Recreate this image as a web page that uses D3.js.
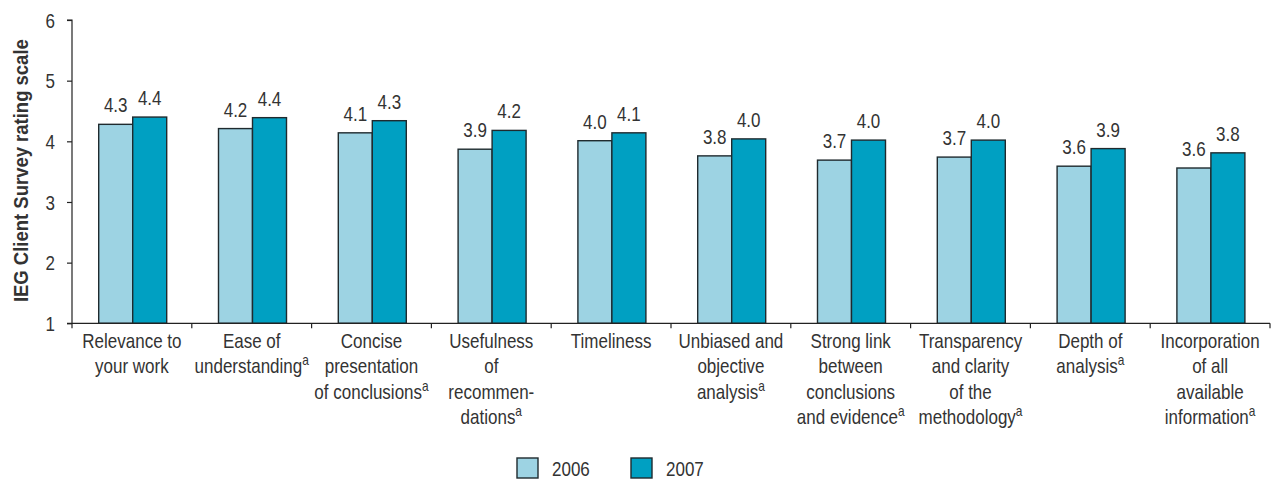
<!DOCTYPE html>
<html><head><meta charset="utf-8">
<script src="https://cdn.jsdelivr.net/npm/d3@7"></script>
<style>
html,body{margin:0;padding:0;background:#fff;}
svg text{font-family:"Liberation Sans","Arial",sans-serif;fill:#333;}
</style></head>
<body><svg id="c" width="1271" height="480"></svg>
<script>
const categories = [
  ["Relevance to","your work"],
  ["Ease of","understanding^"],
  ["Concise","presentation","of conclusions^"],
  ["Usefulness","of","recommen-","dations^"],
  ["Timeliness"],
  ["Unbiased and","objective","analysis^"],
  ["Strong link","between","conclusions","and evidence^"],
  ["Transparency","and clarity","of the","methodology^"],
  ["Depth of","analysis^"],
  ["Incorporation","of all","available","information^"]
];
const series = ["2006","2007"];
const values2006 = [4.28,4.21,4.14,3.87,4.01,3.76,3.69,3.74,3.59,3.56];
const values2007 = [4.40,4.39,4.34,4.18,4.14,4.04,4.02,4.02,3.88,3.81];
const yTicks = [1,2,3,4,5,6];
const colors = ["#9dd3e3","#00a0c2"];

const SX = 0.85; // horizontal condensing to mimic a condensed typeface
const svg = d3.select("#c");
const x0 = 72, x1 = 1270, yTop = 20, yBot = 323.3;
const x = d3.scaleBand().domain(d3.range(categories.length)).range([x0,x1]);
const y = d3.scaleLinear().domain([1,6]).range([yBot,yTop]);
const barW = 34;
const xs = d3.scaleBand().domain(series).range([0,barW*2]);

const data = [];
categories.forEach((c,i)=>{
  data.push({i, s:"2006", v:values2006[i]});
  data.push({i, s:"2007", v:values2007[i]});
});
const gOff = (x.bandwidth()-barW*2)/2 + 0.8;
svg.append("g").selectAll("rect").data(data).join("rect")
  .attr("x", d=>x(d.i)+gOff+xs(d.s))
  .attr("y", d=>y(d.v))
  .attr("width", xs.bandwidth())
  .attr("height", d=>y(1)-y(d.v))
  .attr("fill", d=>colors[series.indexOf(d.s)])
  .attr("stroke","#1f2a2e").attr("stroke-width",1.4);

// value labels
svg.append("g").selectAll("text").data(data).join("text")
  .attr("transform", d=>`translate(${x(d.i)+gOff+xs(d.s)+xs.bandwidth()/2},${y(d.v)-12}) scale(${SX},1)`)
  .attr("text-anchor","middle")
  .attr("font-size",20)
  .text(d=>d3.format(".1f")(d.v));

// y axis
const ya = svg.append("g").attr("transform",`translate(${x0},0)`)
  .call(d3.axisLeft(y).tickValues(yTicks).tickSize(5).tickFormat(d3.format("d")));
ya.select(".domain").attr("stroke","#222").attr("stroke-width",1.2).attr("d",`M-5,${yTop}H0V${yBot}H-5`);
ya.selectAll(".tick line").attr("stroke","#222").attr("stroke-width",1.2);
ya.selectAll(".tick text").attr("x",0).attr("font-size",20).attr("fill","#333").attr("dy","0.36em")
  .attr("transform",`translate(-17,0) scale(${SX},1)`)
  .style("font-family",'"Liberation Sans",Arial,sans-serif');

// x axis
const xa = svg.append("g").attr("transform",`translate(0,${yBot})`);
xa.append("line").attr("x1",x0).attr("x2",x1).attr("stroke","#222").attr("stroke-width",1.2);
const tickPos = d3.range(categories.length+1).map(i=> i<categories.length ? x(i) : x1);
xa.selectAll("line.t").data(tickPos).join("line").attr("class","t")
  .attr("x1",d=>d).attr("x2",d=>d).attr("y1",0).attr("y2",5).attr("stroke","#222").attr("stroke-width",1.2);

// category labels
const lab = svg.append("g");
categories.forEach((lines,i)=>{
  const t = lab.append("text").attr("text-anchor","middle").attr("font-size",20)
    .attr("transform",`translate(${x(i)+x.bandwidth()/2},348) scale(${SX},1)`);
  lines.forEach((ln,k)=>{
    const sup = ln.endsWith("^");
    const txt = sup ? ln.slice(0,-1) : ln;
    t.append("tspan").attr("x",0).attr("y", k*25.5).text(txt);
    if(sup){
      t.append("tspan").attr("font-size",14).attr("dy",-8).text("a");
    }
  });
});

// y title
const title = svg.append("text").attr("text-anchor","middle").attr("font-size",20).attr("font-weight","bold").attr("fill","#222")
  .text("IEG Client Survey rating scale");
const tw = title.node().getComputedTextLength();
title.attr("transform",`translate(28,${(yTop+yBot)/2 - 1}) rotate(-90) scale(${263/tw},1)`);

// legend
const leg = svg.append("g");
const legX = [517, 631];
series.forEach((s,k)=>{
  leg.append("rect").attr("x",legX[k]).attr("y",458).attr("width",21).attr("height",20)
    .attr("fill",colors[k]).attr("stroke","#1f2a2e").attr("stroke-width",1.4);
  leg.append("text").attr("transform",`translate(${legX[k]+35},476) scale(${SX},1)`).attr("font-size",20).text(s);
});
</script></body></html>
